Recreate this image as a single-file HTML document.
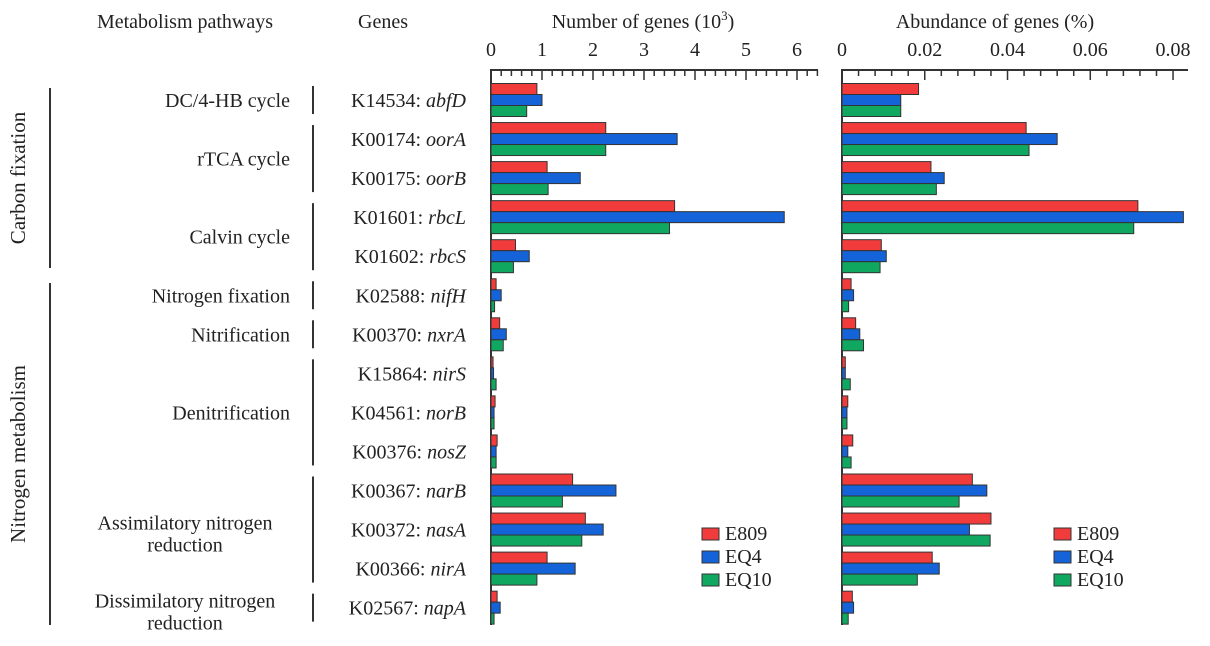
<!DOCTYPE html>
<html><head><meta charset="utf-8"><style>
body{margin:0;background:#fff}
svg{font-family:"Liberation Serif",serif;fill:#222}
</style></head><body>
<svg id="c" width="1210" height="641" xmlns="http://www.w3.org/2000/svg"></svg>
<script>
const genes=["K14534: |abfD","K00174: |oorA","K00175: |oorB","K01601: |rbcL","K01602: |rbcS","K02588: |nifH","K00370: |nxrA","K15864: |nirS","K04561: |norB","K00376: |nosZ","K00367: |narB","K00372: |nasA","K00366: |nirA","K02567: |napA"];
const seriesNames=["E809","EQ4","EQ10"];
const countE809=[0.9,2.25,1.1,3.6,0.48,0.1,0.17,0.04,0.08,0.12,1.6,1.85,1.1,0.12];
const countEQ4=[1.0,3.65,1.75,5.75,0.75,0.2,0.3,0.05,0.06,0.1,2.45,2.2,1.65,0.18];
const countEQ10=[0.7,2.25,1.12,3.5,0.44,0.07,0.24,0.1,0.06,0.1,1.4,1.78,0.9,0.06];
const abundE809=[0.0185,0.0445,0.0215,0.0715,0.0095,0.0022,0.0033,0.0008,0.0014,0.0026,0.0315,0.036,0.0218,0.0025];
const abundEQ4=[0.0142,0.052,0.0247,0.0825,0.0107,0.0028,0.0043,0.0008,0.0012,0.0014,0.035,0.0308,0.0235,0.0028];
const abundEQ10=[0.0142,0.0452,0.0228,0.0705,0.0092,0.0016,0.0052,0.002,0.0012,0.0022,0.0283,0.0358,0.0182,0.0015];
const countTicks=["0","1","2","3","4","5","6"];
const abundTicks=["0","0.02","0.04","0.06","0.08"];
const pathways=[["DC/4-HB cycle",0,0],["rTCA cycle",1,2],["Calvin cycle",3,4],["Nitrogen fixation",5,5],["Nitrification",6,6],["Denitrification",7,9],["Assimilatory nitrogen|reduction",10,12],["Dissimilatory nitrogen|reduction",13,13]];
const colors=["#f23c3c","#1463d8","#10a860"];
const S=document.getElementById('c');const NS="http://www.w3.org/2000/svg";
function mk(t,a,txt){const e=document.createElementNS(NS,t);for(const k in a)e.setAttribute(k,a[k]);if(txt!=null)e.textContent=txt;S.appendChild(e);return e;}
const rowY=i=>100+i*39.05;
function txt(x,y,s,anchor,name,size){const e=mk('text',{x:x,y:y,'font-size':size||20,'text-anchor':anchor||'start'},s);return e;}
txt(185,28,"Metabolism pathways","middle","pathways-header");
txt(383,28,"Genes","middle","genes-header");
const t1=mk('text',{x:643,y:28,'font-size':20,'text-anchor':'middle'});t1.innerHTML='Number of genes (10<tspan dy="-8" font-size="13">3</tspan><tspan dy="8">)</tspan>';

txt(995,28,"Abundance of genes (%)","middle","abundance-axis-title");
// gene labels
genes.forEach((g,i)=>{const [a,b]=g.split('|');const e=mk('text',{x:466,y:rowY(i)+7,'font-size':20,'text-anchor':'end'});e.innerHTML=a+'<tspan font-style="italic">'+b+'</tspan>';});
// pathway labels and separators
pathways.forEach(p=>{const y0=rowY(p[1])-14,y1=rowY(p[2])+14;const l=mk('line',{x1:313,x2:313,y1:y0,y2:y1,stroke:'#333','stroke-width':2});
 const yc=(rowY(p[1])+rowY(p[2]))/2;const parts=p[0].split('|');
 if(parts.length==1)txt(290,yc+7,parts[0],"end","pathway-label");
 else{txt(185,yc,parts[0],"middle","pathway-label");txt(185,yc+22,parts[1],"middle","pathway-label");}});
// group lines
[[88,268,"Carbon fixation"],[283,625,"Nitrogen metabolism"]].forEach(g=>{const l=mk('line',{x1:50,x2:50,y1:g[0],y2:g[1],stroke:'#333','stroke-width':2});
 const e=mk('text',{x:0,y:0,'font-size':21,'text-anchor':'middle',transform:`translate(25,${(g[0]+g[1])/2}) rotate(-90)`},g[2]);});
function panel(x0,pxPer,axisEnd,ticks,step,minor,data,name,legX){
 const X=v=>x0+v*pxPer;
 const ax=mk('line',{x1:x0,x2:axisEnd,y1:70,y2:70,stroke:'#333','stroke-width':2});
 const ay=mk('line',{x1:x0,x2:x0,y1:69,y2:625,stroke:'#333','stroke-width':2});
 for(let v=0;X(v)<=axisEnd+0.5;v+=minor){const major=Math.abs(v/step-Math.round(v/step))<1e-6;const t=mk('line',{x1:X(v),x2:X(v),y1:70,y2:major?80:76,stroke:'#333','stroke-width':1.5});}
 ticks.forEach((s,i)=>txt(X(i*step),56,s,"middle",name+'-tick-label'));
 genes.forEach((g,i)=>{data.forEach((d,k)=>{const y=rowY(i)-16.5+k*11;const r=mk('rect',{x:x0,y:y,width:Math.max(0,X(d[i])-x0),height:11,fill:colors[k],stroke:'#333','stroke-width':1});});});
 seriesNames.forEach((s,k)=>{const y=528+k*23;const r=mk('rect',{x:legX,y:y,width:17,height:12,fill:colors[k],stroke:'#333','stroke-width':1});txt(legX+23,y+12,s,"start","legend-entry");});
}
panel(491,51,818,countTicks,1,0.2,[countE809,countEQ4,countEQ10],"count",702);
panel(842,4138,1188,abundTicks,0.02,0.004,[abundE809,abundEQ4,abundEQ10],"abundance",1054);
</script>
</body></html>
